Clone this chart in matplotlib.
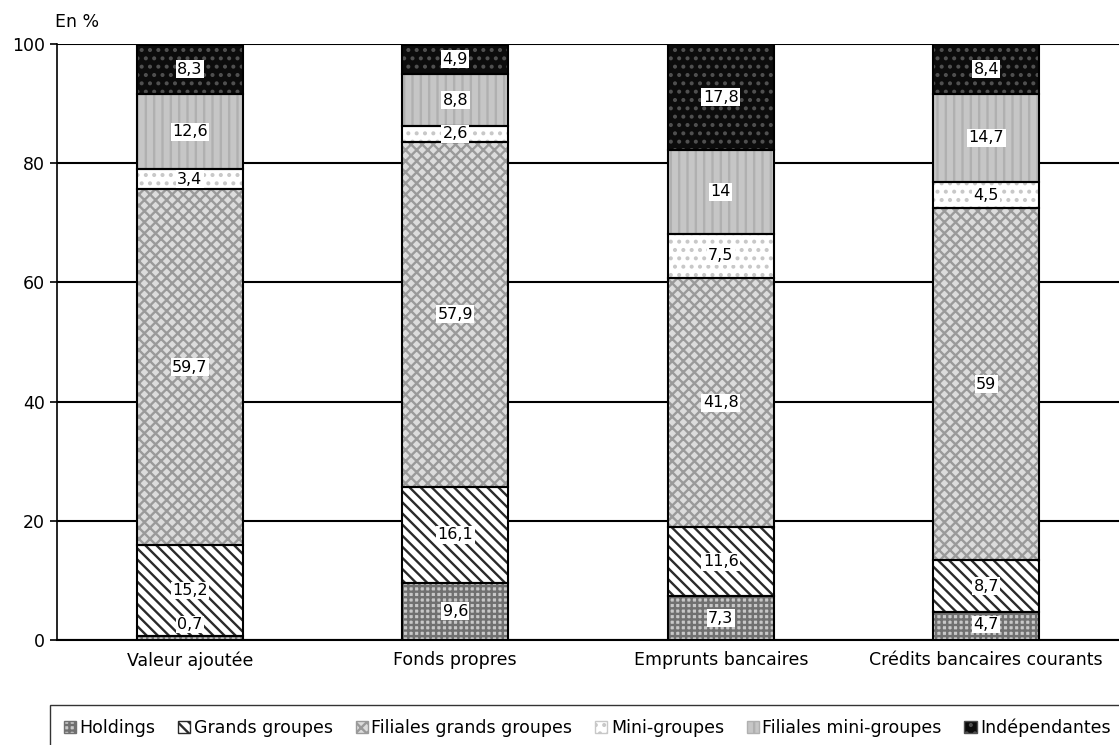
import matplotlib
matplotlib.use("Agg")
import matplotlib.pyplot as plt
from matplotlib.patches import Patch
import numpy as np

categories = ["Valeur ajoutée", "Fonds propres", "Emprunts bancaires", "Crédits bancaires courants"]
series = ["Holdings", "Grands groupes", "Filiales grands groupes", "Mini-groupes",
          "Filiales mini-groupes", "Indépendantes"]
holdings = [0.7, 9.6, 7.3, 4.7]
grands_groupes = [15.2, 16.1, 11.6, 8.7]
filiales_gg = [59.7, 57.9, 41.8, 59.0]
mini_groupes = [3.4, 2.6, 7.5, 4.5]
filiales_mg = [12.6, 8.8, 14.0, 14.7]
independantes = [8.3, 4.9, 17.8, 8.4]
values = [holdings, grands_groupes, filiales_gg, mini_groupes, filiales_mg, independantes]

# face colour, hatch, hatch colour
styles = [
    ("#c8c8c8", "+++", "#707070"),
    ("#ffffff", "\\\\\\", "#2a2a2a"),
    ("#dcdcdc", "xxx", "#9a9a9a"),
    ("#ffffff", "..", "#c8c8c8"),
    ("#c6c6c6", "||", "#b0b0b0"),
    ("#0c0c0c", "..", "#505050"),
]

plt.rcParams["font.family"] = "DejaVu Sans"
plt.rcParams["hatch.linewidth"] = 1.7

fig = plt.figure(figsize=(11.19, 7.45), dpi=100)
ax = fig.add_axes([57 / 1119, 1 - 640 / 745, 1 - 57 / 1119, 596 / 745])

x = np.arange(len(categories))
w = 0.40
bottom = np.zeros(len(categories))
for vals, (fc, hatch, hc) in zip(values, styles):
    vals = np.array(vals)
    ax.bar(x, vals, w, bottom=bottom, color=fc, edgecolor=hc, hatch=hatch, linewidth=0, zorder=3)
    ax.bar(x, vals, w, bottom=bottom, fill=False, edgecolor="black", linewidth=1.5, zorder=4)
    for xi, b, v in zip(x, bottom, vals):
        lab = ("%g" % v).replace(".", ",")
        ypos = max(b + v / 2, 2.6)
        ax.text(xi, ypos, lab, ha="center", va="center", fontsize=11.5, zorder=5,
                bbox=dict(facecolor="white", edgecolor="none", pad=1.0))
    bottom = bottom + vals

ax.set_xlim(-0.5, 3.5)
ax.set_ylim(0, 100)
ax.set_yticks([0, 20, 40, 60, 80, 100])
ax.set_xticks(x)
ax.set_xticklabels(categories, fontsize=12.5)
ax.tick_params(axis="y", labelsize=12.5, length=5, width=1.2, direction="out")
ax.tick_params(axis="x", length=0, pad=8)
ax.grid(axis="y", color="black", linewidth=1.5, zorder=1)
ax.set_axisbelow(True)
for s in ["top", "right"]:
    ax.spines[s].set_visible(False)
ax.spines["left"].set_linewidth(1.2)
ax.spines["bottom"].set_linewidth(1.5)

fig.text(55 / 1119, 1 - 22 / 745, "En %", fontsize=12.5, va="center", ha="left")

handles = [Patch(facecolor=fc, edgecolor=hc, hatch=h) for fc, h, hc in styles]
fig.legend(handles, series, loc="upper left",
           bbox_to_anchor=(50 / 1119, 1 - 705 / 745 - 0.1, 1.0 - 50 / 1119 + 0.005, 0.1),
           mode="expand", ncol=6, frameon=True, fancybox=False, edgecolor="black",
           fontsize=12.5, handlelength=0.7, handleheight=0.7, handletextpad=0.2,
           columnspacing=0.8, borderpad=0.8, borderaxespad=0)

fig.savefig("out.png", dpi=100)
